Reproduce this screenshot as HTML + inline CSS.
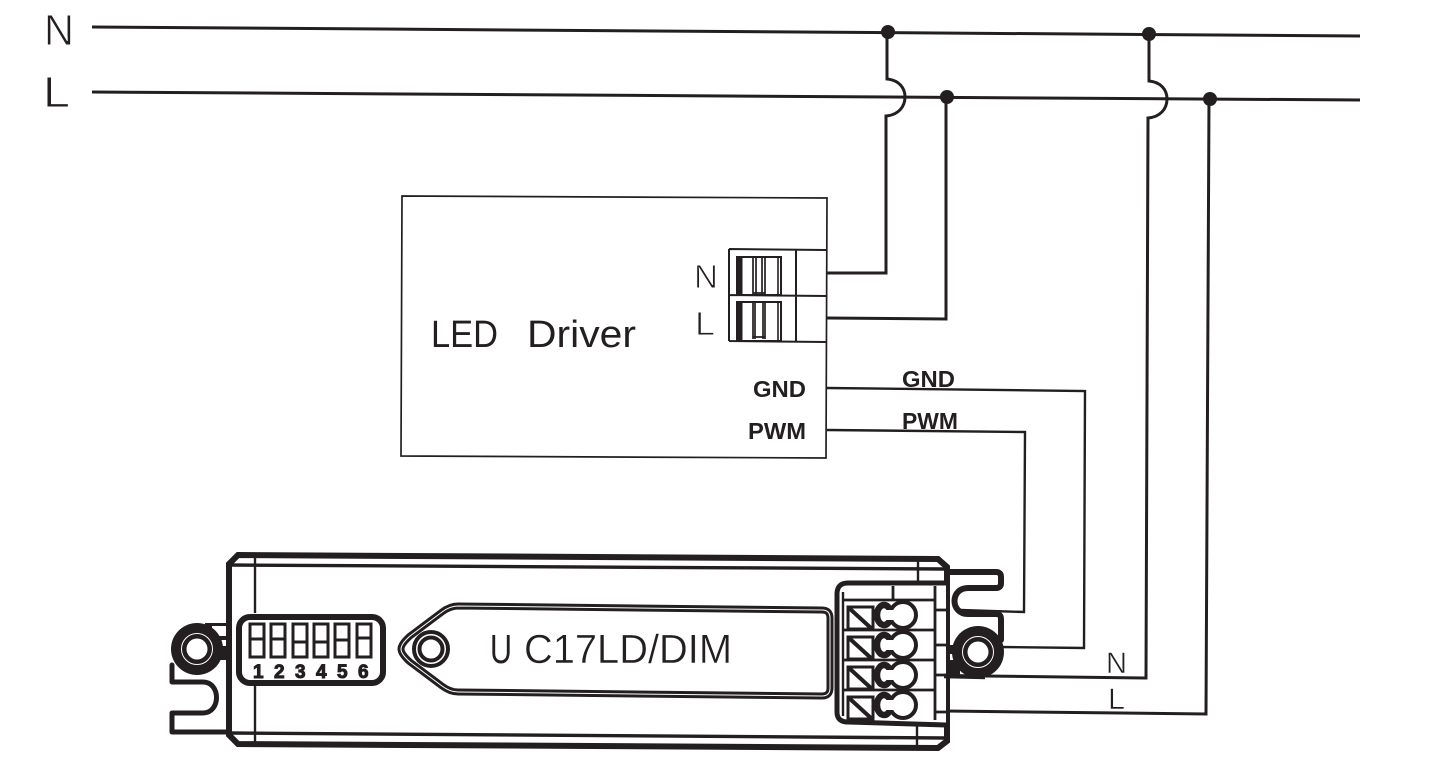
<!DOCTYPE html>
<html>
<head>
<meta charset="utf-8">
<style>
html,body{margin:0;padding:0;background:#fff;width:1437px;height:761px;overflow:hidden}
svg{display:block}
text{font-family:"Liberation Sans",sans-serif;fill:#231f20}
.w{fill:none;stroke:#231f20;stroke-width:3}
.t{fill:none;stroke:#231f20;stroke-width:1.7}
.m{fill:none;stroke:#231f20;stroke-width:2.8}
.h{fill:none;stroke:#231f20;stroke-width:5;stroke-linejoin:round;stroke-linecap:round}
.l{stroke:#fff;stroke-width:.9}
</style>
</head>
<body>
<svg width="1437" height="761" viewBox="0 0 1437 761" xmlns="http://www.w3.org/2000/svg">
<!-- mains -->
<path class="w" d="M92 27L1360 36M92 92L1360 100"/>
<circle cx="888" cy="32" r="7" fill="#231f20"/>
<circle cx="1149" cy="34" r="7" fill="#231f20"/>
<circle cx="947" cy="97" r="7" fill="#231f20"/>
<circle cx="1210" cy="99" r="7" fill="#231f20"/>
<path class="w" d="M887 32V79C899 80 905 88 905 97C905 107 898 115 886 116V273H827"/>
<path class="w" d="M946 97V319L827 318"/>
<path class="w" d="M1149 34V81C1161 82 1167 90 1167 99C1167 109 1160 117 1148 118L1146 678L985 676"/>
<path class="w" d="M1209 99L1206 714L945 711"/>
<text x="44" y="45" font-size="44" class="l" textLength="30" lengthAdjust="spacingAndGlyphs">N</text>
<text x="43" y="107" font-size="44" class="l" textLength="27" lengthAdjust="spacingAndGlyphs">L</text>
<!-- driver -->
<path class="t" d="M402 196L827 198L826 458L401 456Z"/>
<path class="t" style="stroke-width:2" d="M729 249L826 250M729 295L826 296M729 341L826 342M729 249V341M796 250V342"/>
<path class="t" style="stroke-width:2" d="M737 257H781V295H737ZM737 302H781V341H737Z"/>
<path class="t" d="M753 258V294M756 258V294M762 258V294M765 258V294M753 293H765M753 303V339M755 303V339M763 303V339M765 303V339M753 337H765"/>
<path d="M740 257V295M740 302V341" stroke="#231f20" stroke-width="5" fill="none"/>
<path d="M778 257V295M778 302V341" stroke="#231f20" stroke-width="1.6" fill="none"/>
<text x="694" y="288" font-size="33" class="l" textLength="24" lengthAdjust="spacingAndGlyphs">N</text>
<text x="695" y="335" font-size="33" class="l" textLength="20" lengthAdjust="spacingAndGlyphs">L</text>
<text x="431" y="347" font-size="38" textLength="67" lengthAdjust="spacingAndGlyphs">LED</text>
<text x="527" y="347" font-size="38" textLength="109" lengthAdjust="spacingAndGlyphs">Driver</text>
<text x="753" y="397" font-size="23" font-weight="bold" textLength="53" lengthAdjust="spacingAndGlyphs">GND</text>
<text x="748" y="439" font-size="23" font-weight="bold" textLength="58" lengthAdjust="spacingAndGlyphs">PWM</text>
<text x="902" y="387" font-size="23" font-weight="bold" textLength="53" lengthAdjust="spacingAndGlyphs">GND</text>
<text x="902" y="429" font-size="23" font-weight="bold" textLength="56" lengthAdjust="spacingAndGlyphs">PWM</text>
<path class="m" style="stroke-width:2.4" d="M827 388L1085 391L1084 648L1000 647"/>
<path class="m" style="stroke-width:2.4" d="M827 430L1025 432L1024 612L960 610"/>
<text x="1106" y="673" font-size="30" class="l" style="stroke-width:.6" textLength="21" lengthAdjust="spacingAndGlyphs">N</text>
<text x="1108" y="709" font-size="30" class="l" style="stroke-width:.6" textLength="17" lengthAdjust="spacingAndGlyphs">L</text>
<!-- controller body -->
<path fill="none" stroke="#231f20" stroke-width="6" stroke-linejoin="miter" d="M238 555L938 559L947 567V741L938 748L238 744L229 735V564Z"/>
<path class="m" style="stroke-width:3.4" d="M229 565L945 569M229 733L945 738"/>
<path class="m" style="stroke-width:2.4" d="M255 556V613M255 684V743M918 560V585M917 722V746"/>
<!-- left ear -->
<path class="h" d="M172 665V682H203C221 682 221 713 203 713H172V732H226"/>
<path d="M205 623H228V640H217V646H228V660H205Z" fill="#231f20"/>
<path d="M212 626H226V636H212Z" fill="#fff"/>
<circle cx="197" cy="649" r="26" fill="#231f20"/>
<circle cx="197" cy="649" r="15.500" fill="none" stroke="#fff" stroke-width="1"/>
<circle cx="197" cy="649" r="10.500" fill="#fff"/>
<!-- DIP -->
<rect x="239" y="617" width="144" height="66" rx="11" fill="#fff" stroke="#231f20" stroke-width="6"/>
<g fill="none" stroke="#231f20" stroke-width="3">
<rect x="250" y="624" width="14" height="33"/><rect x="271" y="624" width="14" height="33"/><rect x="293" y="624" width="14" height="33"/><rect x="314" y="624" width="14" height="33"/><rect x="335" y="624" width="14" height="33"/><rect x="357" y="624" width="14" height="33"/>
<path d="M250 639H264M271 639H285M293 642H307M314 642H328M335 640H349M357 638H371"/>
</g>
<text x="253 274 295 316 337 358" y="678" font-size="19" font-weight="bold" stroke="#231f20" stroke-width="1">123456</text>
<!-- slot -->
<path fill="none" stroke="#231f20" stroke-width="7" stroke-linejoin="round" d="M458 606L822 610Q830 610 830 618V688Q830 696 822 696L458 692Q450 692 442 686L410 662Q401 654 401 649Q401 644 410 636L442 612Q450 606 458 606Z"/>
<path fill="none" stroke="#fff" stroke-width="1" d="M458 606L822 610Q830 610 830 618V688Q830 696 822 696L458 692Q450 692 442 686L410 662Q401 654 401 649Q401 644 410 636L442 612Q450 606 458 606Z"/>
<circle cx="431" cy="649" r="17" fill="#fff" stroke="#231f20" stroke-width="4"/>
<circle cx="431" cy="649" r="11.500" fill="#fff" stroke="#231f20" stroke-width="4"/>
<text x="490" y="663" font-size="41" textLength="22" lengthAdjust="spacingAndGlyphs">U</text>
<text x="524" y="663" font-size="41" class="l" style="stroke-width:.4" textLength="208" lengthAdjust="spacingAndGlyphs">C17LD/DIM</text>
<!-- terminal block -->
<path fill="#fff" stroke="#231f20" stroke-width="5" d="M946 583H848Q837 583 837 594V712Q837 722 848 722L946 725"/>
<path class="m" d="M935 586V720M893 586V600M842 600H935M842 630H935M842 660H935M842 690H935M935 610H947M935 645H947M935 675H947M935 712H947"/>
<path stroke="#231f20" stroke-width="2.4" fill="none" d="M843 592V716"/>
<g fill="#fff" stroke="#231f20" stroke-width="3">
<rect x="848" y="607" width="25" height="22"/><rect x="848" y="637" width="25" height="22"/><rect x="848" y="667" width="25" height="22"/><rect x="848" y="697" width="25" height="22"/>
</g>
<path d="M849 608L872 629M849 638L872 659M849 668L872 689M849 698L872 719" stroke="#231f20" stroke-width="4" fill="none"/>
<g fill="#fff" stroke="#231f20">
<g stroke-width="4"><circle cx="903" cy="615" r="13"/><circle cx="903" cy="645" r="13"/><circle cx="903" cy="675" r="13"/><circle cx="903" cy="705" r="13"/></g>
<g stroke-width="6.500"><ellipse cx="884" cy="615" rx="7" ry="10"/><ellipse cx="884" cy="645" rx="7" ry="10"/><ellipse cx="884" cy="675" rx="7" ry="10"/><ellipse cx="884" cy="705" rx="7" ry="10"/></g>
</g>
<path d="M885 610H897V620H885ZM885 640H897V650H885ZM885 670H897V680H885ZM885 700H897V710H885Z" fill="#fff"/>
<!-- right ear -->
<path fill="none" stroke="#231f20" stroke-width="6" stroke-linejoin="round" stroke-linecap="round" d="M949 572H996Q1001 572 1001 577V583Q1001 588 996 588H968C950 588 950 614 968 614H996Q1001 614 1001 619V640"/>
<path d="M947 645H960V654H947ZM947 660H960V676H947Z" fill="#231f20"/>
<path d="M944 676L985 677" stroke="#231f20" stroke-width="4.500" fill="none"/>
<circle cx="978" cy="652" r="26" fill="#231f20"/>
<circle cx="978" cy="652" r="15.500" fill="none" stroke="#fff" stroke-width="1"/>
<circle cx="978" cy="652" r="10.500" fill="#fff"/>
</svg>
</body>
</html>
